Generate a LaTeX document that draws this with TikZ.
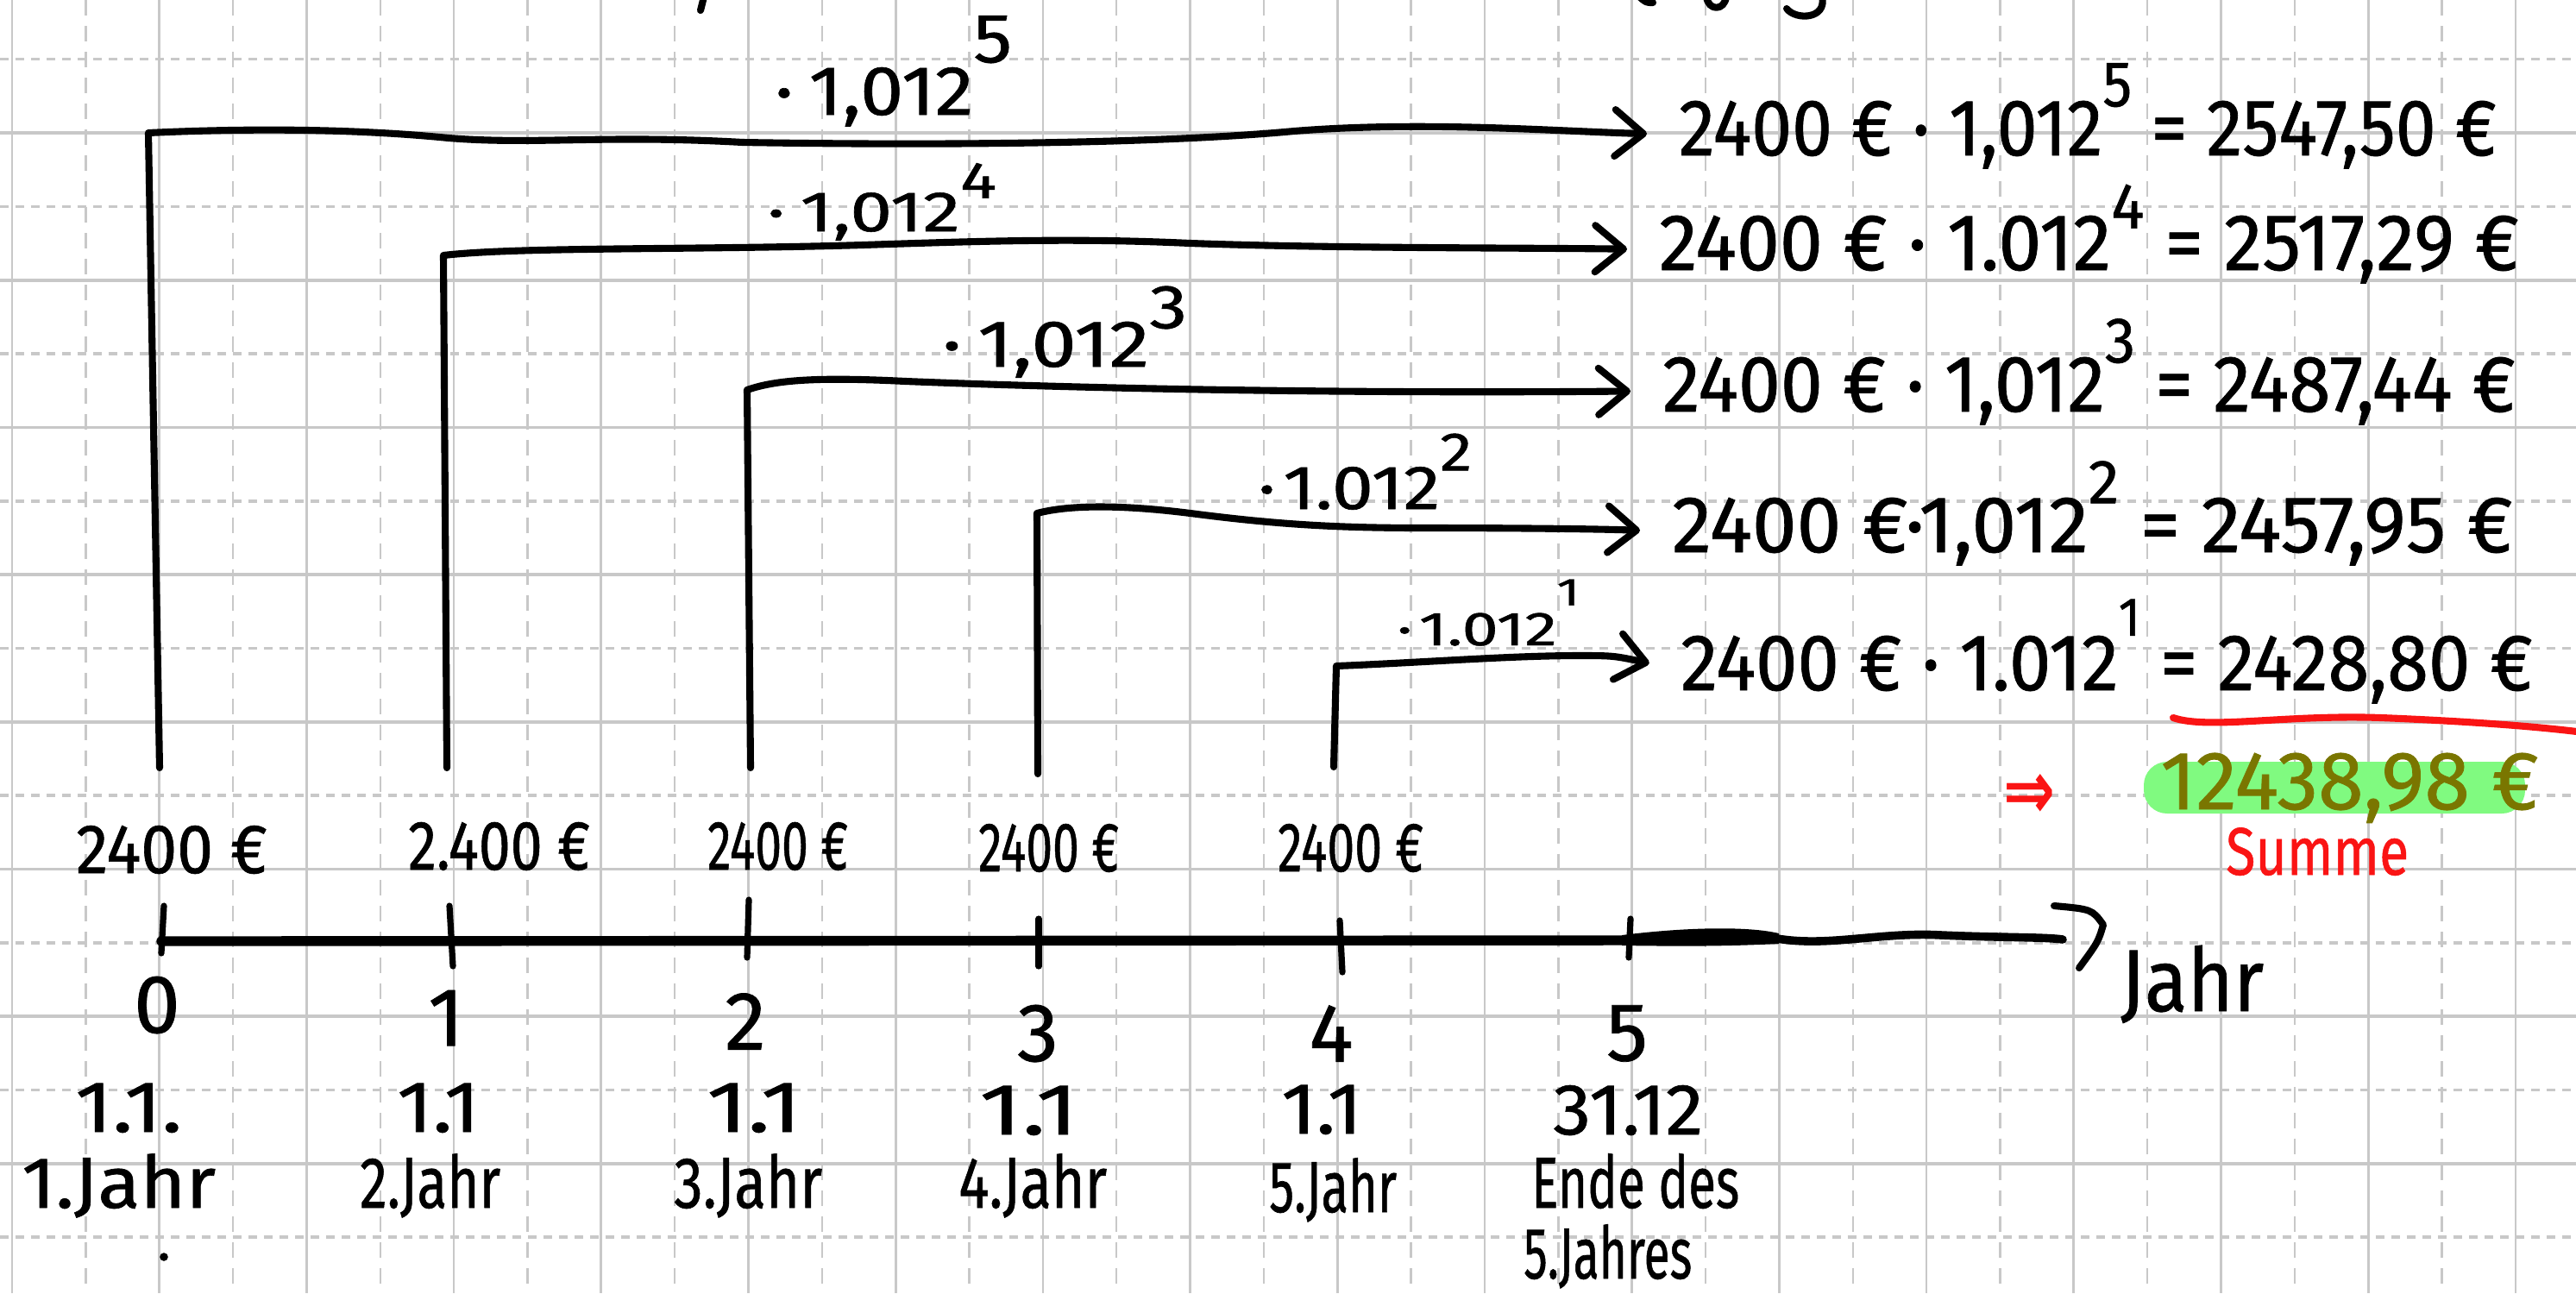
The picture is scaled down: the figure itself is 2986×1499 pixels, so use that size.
\documentclass[tikz,border=0pt]{standalone}
\usepackage{fontspec}
\setmainfont{Fira Sans}[FakeBold=0.8]
\newfontfamily\dejavu{DejaVu Sans}
\usepackage{graphicx}
\usetikzlibrary{arrows.meta}
\newlength\pxu
\setlength\pxu{0.166667pt}
\newcommand\fitw[2]{\resizebox{#1\pxu}{\height}{#2}}
\newcommand\ex[3]{\smash{\raisebox{#1em}{\fontsize{#2}{#2}\selectfont #3}}}
\definecolor{gridc}{RGB}{200,200,200}
\definecolor{hl}{RGB}{128,250,128}
\definecolor{olivetxt}{RGB}{122,118,0}
\definecolor{redpen}{RGB}{250,20,20}
\begin{document}
\begin{tikzpicture}[x=0.166667pt,y=-0.166667pt,
  pen/.style={line width=1.35pt, line cap=round, line join=round, black},
  arr/.style={pen, -{Straight Barb[length=5.5pt,width=9pt,round]}, shorten >=6pt},
  gsolid/.style={draw=gridc, line width=0.45pt},
  gdash/.style={draw=gridc, line width=0.4pt, dash pattern=on 3pt off 2pt},
  gdot/.style={draw=gridc, line width=0.6pt, dash pattern=on 1.6pt off 1.4pt},
  txt/.style={inner sep=0pt, anchor=base west},
  res/.style={txt, font=\fontsize{15.5}{18}\selectfont},
  amt/.style={txt, font=\fontsize{13.5}{15}\selectfont},
  num/.style={inner sep=0pt, font=\fontsize{16}{18}\selectfont},
  dat/.style={txt, font=\fontsize{14}{16}\selectfont},
  redtxt/.style={txt, text=redpen},
]
\useasboundingbox (0,0) rectangle (2986,1499);
\fill[white] (0,0) rectangle (2986,1499);
\begin{scope}
\clip (0,0) rectangle (2986,1499);
% grid
\foreach \k in {0,...,17} {
  \draw[gdash] ({99.35+170.7*\k},0) -- ({99.35+170.7*\k},1499);
  \draw[gsolid] ({14+170.7*\k},0) -- ({14+170.7*\k},1499);
}
\foreach \k in {0,...,8} {
  \draw[gdot] (0,{68.6+170.7*\k}) -- (2986,{68.6+170.7*\k});
}
\foreach \k in {0,...,7} {
  \draw[gsolid, line width=0.6pt] (0,{154+170.7*\k}) -- (2986,{154+170.7*\k});
}

% cut-off fragments of a line above the picture
\draw[pen] (816,-4) -- (812,12);
\draw[pen] (1900,-4) .. controls (1908,3) .. (1916,3);
\draw[pen] (1978,-4) .. controls (1980,13) and (1999,13) .. (2001,-4);
\draw[pen] (2112,-4) .. controls (2118,22) and (2082,24) .. (2071,10);

% result texts
\node[res] (r1) at (1945,180) {\fitw{948}{2400 € · 1,012\ex{0.61}{12.5}{5} = 2547,50 €}};
\node[res] (r2) at (1922,313) {\fitw{997}{2400 € · 1.012\ex{0.52}{12.5}{4} = 2517,29 €}};
\node[res] (r3) at (1926,477) {\fitw{989}{2400 € · 1,012\ex{0.61}{12.5}{3} = 2487,44 €}};
\node[res] (r4) at (1937,640) {\fitw{975}{2400 €·1,012\ex{0.61}{12}{2} =\ 2457,95 €}};
\node[res] (r5) at (1947,800) {\fitw{988}{2400 € · 1.012\ex{0.68}{10.5}{1} = 2428,80 €}};

% factor labels
\node[txt, font=\fontsize{13.5}{15}\selectfont] (m1) at (897,133) {\fitw{275}{·\hspace{0.2em}1,012\ex{0.75}{13.5}{5}}};
\node[txt, font=\fontsize{11}{13}\selectfont] (m2) at (888,268) {\fitw{266}{·\hspace{0.2em}1,012\ex{0.58}{10}{4}}};
\node[txt, font=\fontsize{12.8}{14}\selectfont] (m3) at (1091,425) {\fitw{284}{·\hspace{0.2em}1,012\ex{0.58}{12}{3}}};
\node[txt, font=\fontsize{12}{14}\selectfont] (m4) at (1457,590) {\fitw{248}{·\hspace{0.1em}1.012\ex{0.62}{10.5}{2}}};
\node[txt, font=\fontsize{9.2}{11}\selectfont] (m5) at (1618,748) {\fitw{212}{·\hspace{0.1em}1.012\ex{0.84}{7.5}{1}}};

% bracket connectors
\coordinate (b1) at (185,890);  \coordinate (c1) at (172,154);
\coordinate (b2) at (518,890);  \coordinate (c2) at (514,296);
\coordinate (b3) at (870,890);  \coordinate (c3) at (866,452);
\coordinate (b4) at (1203,897); \coordinate (c4) at (1202,595);
\coordinate (b5) at (1546,889); \coordinate (c5) at (1549,772);
\draw[arr] (b1) -- (c1) .. controls (300,148) and (420,150) .. (520,160)
   .. controls (620,168) and (700,156) .. (861,165)
   .. controls (1100,169) and (1350,166) .. (1500,152)
   .. controls (1650,140) and (1800,152) .. (r1.west);
\draw[arr] (b2) -- (c2) .. controls (600,286) and (800,290) .. (1000,284)
   .. controls (1150,279) and (1250,276) .. (1380,282)
   .. controls (1550,288) and (1750,287) .. (r2.west);
\draw[arr] (b3) -- (c3) .. controls (900,440) and (950,437) .. (1050,442)
   .. controls (1300,452) and (1600,456) .. (r3.west);
\draw[arr] (b4) -- (c4) .. controls (1240,585) and (1300,585) .. (1380,595)
   .. controls (1480,608) and (1550,612) .. (1650,612)
   .. controls (1750,612) and (1850,613) .. (r4.west);
\draw[arr] (b5) -- (c5) .. controls (1650,768) and (1750,760) .. (1830,760)
   .. controls (1870,760) .. (r5.west);

% underline, sum
\draw[pen, redpen] (2519,832) .. controls (2560,846) and (2650,828) .. (2760,832)
   .. controls (2860,836) and (2940,842) .. (2995,849);
\node[inner sep=0pt, text=redpen] (imp) at (2352,923) {\resizebox{60\pxu}{52\pxu}{\dejavu\bfseries ⇒}};
\fill[hl, rounded corners=4.5pt] (2485,883) rectangle (2927,943);
\node[txt, text=olivetxt, font=\fontsize{16}{18}\selectfont] (sum) at (2503,938) {\fitw{439}{12438,98 €}};
\node[redtxt, font=\fontsize{13}{15}\selectfont] (summe) at (2579,1014) {\fitw{212}{Summe}};

% amounts
\node[amt] (a0) at (87,1012) {\fitw{222}{2400 €}};
\node[amt] (a1) at (472,1008) {\fitw{211}{2.400 €}};
\node[amt] (a2) at (819,1008) {\fitw{163}{2400 €}};
\node[amt] (a3) at (1133,1010) {\fitw{163}{2400 €}};
\node[amt] (a4) at (1480,1010) {\fitw{169}{2400 €}};

% time axis
\coordinate (ax0) at (187,1091);
\coordinate (ax5) at (1890,1090);
\coordinate (axE) at (2391,1089);
\draw[pen, line width=1.9pt] (ax0) -- (ax5);
\fill (1880,1084) .. controls (1960,1074) and (2030,1074) .. (2062,1082) -- (2062,1094)
   .. controls (2000,1097) and (1950,1097) .. (1880,1096) -- cycle;
\draw[pen, line width=1.6pt] (2060,1088) .. controls (2120,1098) and (2180,1080) .. (2250,1084)
   .. controls (2320,1087) and (2370,1086) .. (axE);
\draw[pen] (2381,1050) .. controls (2425,1054) .. (2438,1072) .. controls (2432,1092) .. (2410,1122);
\node[txt, font=\fontsize{17}{19}\selectfont] (jahr) at (2457,1172) {\fitw{166}{Jahr}};

% ticks
\draw[pen, line width=1.2pt] (190,1050) -- (187,1105);
\draw[pen, line width=1.2pt] (521,1050) -- (525,1120);
\draw[pen, line width=1.2pt] (868,1043) -- (866,1110);
\draw[pen, line width=1.2pt] (1204,1065) -- (1204,1120);
\draw[pen, line width=1.2pt] (1553,1067) -- (1556,1127);
\draw[pen, line width=1.2pt] (1890,1065) -- (1888,1110);

% year numbers
\node[num] (n0) at (182,1165) {0};
\node[num] (n1) at (517,1180) {1};
\node[num] (n2) at (864,1184) {2};
\node[num] (n3) at (1203,1198) {3};
\node[num] (n4) at (1543,1198) {4};
\node[num] (n5) at (1886,1198) {5};

% dates
\node[dat] (d0a) at (86,1312) {\fitw{124}{1.1.}};
\node[dat] (d1a) at (459,1312) {\fitw{96}{1.1}};
\node[dat] (d2a) at (818,1312) {\fitw{110}{1.1}};
\node[dat] (d3a) at (1134,1315) {\fitw{115}{1.1}};
\node[dat] (d4a) at (1484,1314) {\fitw{94}{1.1}};
\node[dat] (d5a) at (1799,1315) {\fitw{174}{31.12}};
\node[dat] (d0b) at (24,1400) {\fitw{225}{1.Jahr}};
\node[dat] (d1b) at (416,1400) {\fitw{163}{2.Jahr}};
\node[dat] (d2b) at (780,1400) {\fitw{172}{3.Jahr}};
\node[dat] (d3b) at (1110,1400) {\fitw{172}{4.Jahr}};
\node[dat] (d4b) at (1470,1405) {\fitw{148}{5.Jahr}};
\node[dat] (d5b) at (1774,1400) {\fitw{241}{Ende des}};
\node[dat] (d5c) at (1765,1482) {\fitw{195}{5.Jahres}};
\fill (190,1457) circle (0.8pt);
\end{scope}
\end{tikzpicture}
\end{document}
